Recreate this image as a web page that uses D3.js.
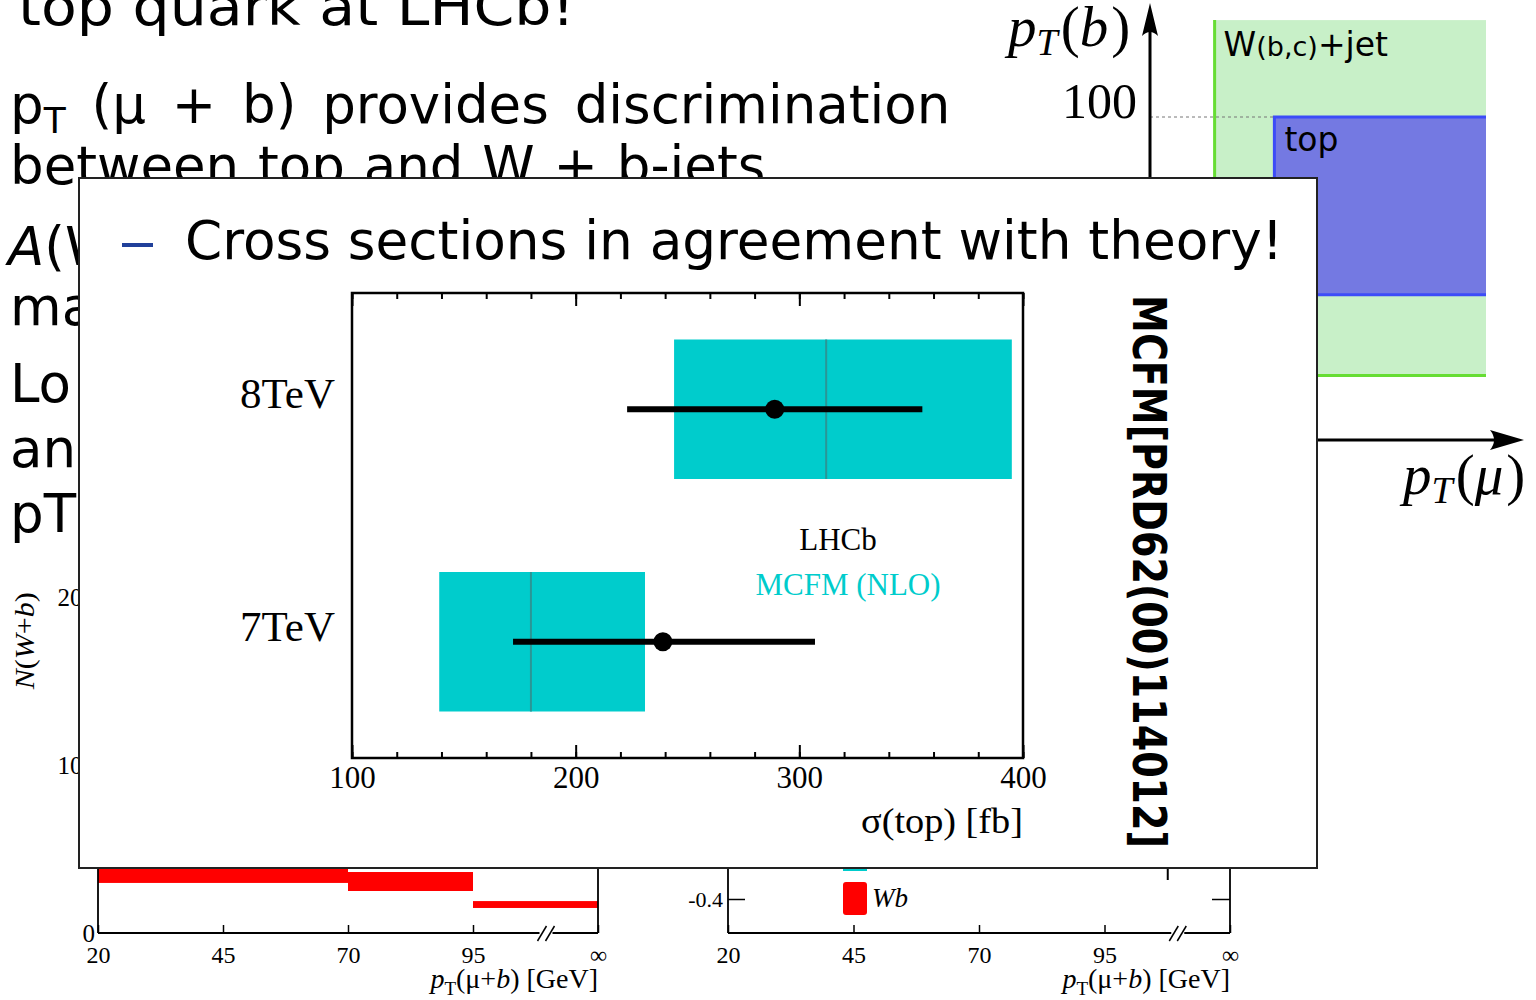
<!DOCTYPE html>
<html>
<head>
<meta charset="utf-8">
<script src="https://cdn.jsdelivr.net/npm/d3@7"></script>
<style>
  body { margin: 0; background: #fff; }
  svg { display: block; }
</style>
</head>
<body>
<svg id="screen" width="1536" height="1000"></svg>
<script>
/* global d3 */

// ---- data ----
// main plot: sigma(top) [fb]
const energies = ["7TeV", "8TeV"];
const lhcbXsec = [239, 289];
const lhcbLo = [172, 223];
const lhcbHi = [307, 355];
const mcfmXsec = [180, 312];
const mcfmLo = [139, 244];
const mcfmHi = [231, 395];
const xsecTicks = [100, 200, 300, 400];

// background slide text
const slideLines = ["top quark at LHCb!", " (μ + b) provides discrimination", "between top and W + b-jets",
                    "(W", "ma", "Lo", "an", "pT"];
const bullet = "Cross sections in agreement with theory!";
const reference = "MCFM[PRD62(00)114012]";

// background sketch pT(b) vs pT(mu)
const regionNames = ["W(b,c)+jet", "top"];
const regionMuLo = [20, 38.5];
const regionMuHi = [104, 104];
const regionBLo = [20, 45];
const regionBHi = [130, 100];

// background histograms, pT(mu+b) bins (120 stands for infinity)
const ptTicks = [20, 45, 70, 95, 120];
const wbBinLo = [20, 70, 95];
const wbBinHi = [70, 95, 120];
const wbBandLo = [29.8, 25, 14.9];
const wbBandHi = [42, 36.3, 19];
const countTicks = [0, 100, 200];
const asymTicks = [-0.4];

const serif = "'Liberation Serif', 'Times New Roman', serif";
const sans = "'DejaVu Sans', Verdana, sans-serif";
const cyan = "#00cccc";

const svg = d3.select("#screen");
svg.append("rect").attr("width", 1536).attr("height", 1000).attr("fill", "#fff");

// ----------------- slide text behind the overlay -----------------
const bg = svg.append("g")
  .attr("font-family", sans)
  .attr("font-size", 53)
  .style("white-space", "pre");

bg.append("text").attr("x", 18).attr("y", 25)
  .attr("textLength", 557).attr("lengthAdjust", "spacingAndGlyphs")
  .text(slideLines[0]);

const l2 = bg.append("text").attr("x", 10).attr("y", 123).attr("word-spacing", 9);
l2.append("tspan").text("p");
l2.append("tspan").attr("font-size", 36).attr("dy", 10).text("T");
l2.append("tspan").attr("dy", -10).text(slideLines[1]);

bg.append("text").attr("x", 10).attr("y", 184).attr("word-spacing", 2).text(slideLines[2]);

const l4 = bg.append("text").attr("x", 8).attr("y", 265);
l4.append("tspan").attr("font-style", "italic").text("A");
l4.append("tspan").text(slideLines[3]);

const restY = [325, 402, 467, 532];
slideLines.slice(4).forEach((t, i) => {
  bg.append("text").attr("x", 10).attr("y", restY[i]).text(t);
});

// ----------------- sketch: pT(b) vs pT(mu) -----------------
const mu = d3.scaleLinear().domain([0, 104]).range([1150, 1486]);
const pb = d3.scaleLinear().domain([0, 100]).range([440, 117]);
const sketch = svg.append("g");

const regionFill = ["#c8f0c8", "#7479e2"];
const regionLine = ["#66dd33", "#3c4cf8"];
regionNames.forEach((name, i) => {
  const x0 = mu(regionMuLo[i]), x1 = mu(regionMuHi[i]);
  const y0 = pb(regionBHi[i]), y1 = pb(regionBLo[i]);
  sketch.append("rect")
    .attr("x", x0).attr("y", y0)
    .attr("width", x1 - x0).attr("height", y1 - y0)
    .attr("fill", regionFill[i]);
  // open border: left + bottom (+ top for the top region)
  const d = i === 0
    ? `M${x0},${y0}V${y1}H${x1}`
    : `M${x1},${y0}H${x0}V${y1}H${x1}`;
  sketch.append("path").attr("d", d)
    .attr("fill", "none").attr("stroke", regionLine[i]).attr("stroke-width", 3);
});

sketch.append("text").attr("x", mu(regionMuLo[0]) + 9).attr("y", 56)
  .attr("font-family", sans).attr("font-size", 33)
  .call(t => {
    t.append("tspan").text("W");
    t.append("tspan").attr("font-size", 27).text("(b,c)");
    t.append("tspan").text("+jet");
  });
sketch.append("text").attr("x", mu(regionMuLo[1]) + 10).attr("y", 151)
  .attr("font-family", sans).attr("font-size", 33).text(regionNames[1]);

sketch.append("line")
  .attr("x1", mu(0)).attr("x2", mu(regionMuLo[1]))
  .attr("y1", pb(100)).attr("y2", pb(100))
  .attr("stroke", "#777").attr("stroke-width", 1).attr("stroke-dasharray", "3,3");

// axes with arrows
sketch.append("line").attr("x1", mu(0)).attr("x2", mu(0)).attr("y1", pb(0)).attr("y2", 20)
  .attr("stroke", "#000").attr("stroke-width", 3);
sketch.append("path").attr("d", `M${mu(0)},3 L${mu(0) - 8},36 Q${mu(0)},28 ${mu(0) + 8},36 Z`);
sketch.append("line").attr("x1", mu(0)).attr("x2", 1505).attr("y1", pb(0)).attr("y2", pb(0))
  .attr("stroke", "#000").attr("stroke-width", 3);
sketch.append("path").attr("d", `M1524,${pb(0)} L1490,${pb(0) - 10} Q1498,${pb(0)} 1490,${pb(0) + 10} Z`);

sketch.append("text").attr("x", mu(0) - 13).attr("y", pb(100) + 1)
  .attr("text-anchor", "end").attr("font-family", serif).attr("font-size", 50)
  .text("100");

const ptLabel = (sel, x, y, arg) => {
  const t = sel.append("text").attr("x", x).attr("y", y)
    .attr("font-family", serif).attr("font-size", 57);
  t.append("tspan").attr("font-style", "italic").text("p");
  t.append("tspan").attr("font-style", "italic").attr("font-size", 38).attr("dy", 9).text("T");
  t.append("tspan").attr("dy", -9).attr("dx", 3).text("(");
  t.append("tspan").attr("font-style", "italic").text(arg);
  t.append("tspan").attr("dx", 3).text(")");
};
ptLabel(sketch, 1008, 46, "b");
ptLabel(sketch, 1403, 494, "μ");

// ----------------- background histograms -----------------
const ptFmt = (d) => d === 120 ? "∞" : d;
const breakVal = 108.5;

const drawPtAxis = (g, x, y0) => {
  const ax = g.append("g").attr("transform", `translate(0,${y0})`)
    .call(d3.axisBottom(x).tickValues(ptTicks).tickSizeInner(-8).tickSizeOuter(0)
      .tickPadding(13).tickFormat(ptFmt));
  ax.select(".domain").remove();
  ax.attr("font-family", serif).attr("font-size", 24);
  ax.selectAll(".tick line").attr("stroke-width", 1.5);
  // axis line with a break
  const xb = x(breakVal);
  g.append("path")
    .attr("d", `M${x(20)},${y0}H${xb - 1}M${xb + 12},${y0}H${x(120)}`)
    .attr("stroke", "#000").attr("stroke-width", 1.8);
  [0, 8].forEach(o => {
    g.append("line").attr("x1", xb - 3 + o).attr("y1", y0 + 8)
      .attr("x2", xb + 6 + o).attr("y2", y0 - 7)
      .attr("stroke", "#000").attr("stroke-width", 1.5);
  });
  const lab = g.append("text").attr("x", x(120)).attr("y", y0 + 55)
    .attr("text-anchor", "end").attr("font-family", serif).attr("font-size", 28);
  lab.append("tspan").attr("font-style", "italic").text("p");
  lab.append("tspan").attr("font-size", 19).attr("dy", 7).text("T");
  lab.append("tspan").attr("dy", -7).text("(μ+");
  lab.append("tspan").attr("font-style", "italic").text("b");
  lab.append("tspan").text(") [GeV]");
};

// left: N(W+b)
const xL = d3.scaleLinear().domain([20, 120]).range([98, 598]);
const yL = d3.scaleLinear().domain([0, 200]).range([933, 597]);
const hl = svg.append("g");
hl.selectAll("rect.band")
  .data(wbBinLo)
  .join("rect")
    .attr("class", "band")
    .attr("x", (d) => xL(d))
    .attr("width", (d, i) => xL(wbBinHi[i]) - xL(d))
    .attr("y", (d, i) => yL(wbBandHi[i]))
    .attr("height", (d, i) => yL(wbBandLo[i]) - yL(wbBandHi[i]))
    .attr("fill", "#ff0000");
const yLax = hl.append("g").attr("transform", `translate(${xL(20)},0)`)
  .call(d3.axisLeft(yL).tickValues(countTicks).tickSize(0).tickPadding(3));
yLax.select(".domain").remove();
yLax.attr("font-family", serif).attr("font-size", 25);
hl.append("line").attr("x1", xL(20)).attr("x2", xL(20)).attr("y1", yL(0)).attr("y2", yL(200))
  .attr("stroke", "#000").attr("stroke-width", 1.8);
hl.append("line").attr("x1", xL(120)).attr("x2", xL(120)).attr("y1", yL(0)).attr("y2", yL(200))
  .attr("stroke", "#000").attr("stroke-width", 1.8);
drawPtAxis(hl, xL, yL(0));
hl.append("text")
  .attr("transform", `translate(34,${yL(174)}) rotate(-90)`)
  .attr("text-anchor", "middle").attr("font-family", serif).attr("font-size", 27)
  .attr("textLength", 97).attr("lengthAdjust", "spacingAndGlyphs")
  .call(t => {
    t.append("tspan").attr("font-style", "italic").text("N");
    t.append("tspan").text("(");
    t.append("tspan").attr("font-style", "italic").text("W");
    t.append("tspan").text("+");
    t.append("tspan").attr("font-style", "italic").text("b");
    t.append("tspan").text(")");
  });

// right: asymmetry
const xR = d3.scaleLinear().domain([20, 120]).range([728, 1230]);
const yR = d3.scaleLinear().domain([-0.6, -0.4]).range([933, 899]);
const hr = svg.append("g");
const yRax = hr.append("g").attr("transform", `translate(${xR(20)},0)`)
  .call(d3.axisLeft(yR).tickValues(asymTicks).tickSizeInner(-17).tickSizeOuter(0)
    .tickPadding(5).tickFormat((d) => d.toFixed(1)));
yRax.select(".domain").remove();
yRax.attr("font-family", serif).attr("font-size", 22);
yRax.selectAll(".tick line").attr("stroke-width", 1.5);
const yRax2 = hr.append("g").attr("transform", `translate(${xR(120)},0)`)
  .call(d3.axisRight(yR).tickValues(asymTicks).tickSizeInner(-18).tickSizeOuter(0).tickFormat(""));
yRax2.select(".domain").remove();
yRax2.selectAll(".tick line").attr("stroke-width", 1.5);
const topR = hr.append("g").attr("transform", "translate(0,868)")
  .call(d3.axisTop(xR).tickValues([107.5]).tickSizeInner(-12).tickSizeOuter(0).tickFormat(""));
topR.select(".domain").remove();
topR.selectAll(".tick line").attr("stroke-width", 2);
[20, 120].forEach(v => {
  hr.append("line").attr("x1", xR(v)).attr("x2", xR(v)).attr("y1", 850).attr("y2", yR(-0.6))
    .attr("stroke", "#000").attr("stroke-width", 1.8);
});
drawPtAxis(hr, xR, yR(-0.6));
// legend entries
hr.append("rect").attr("x", 843).attr("y", 850).attr("width", 24).attr("height", 21).attr("fill", cyan);
hr.append("rect").attr("x", 843).attr("y", 882).attr("width", 24).attr("height", 33)
  .attr("rx", 3).attr("fill", "#ff0000");
hr.append("text").attr("x", 872).attr("y", 907)
  .attr("font-family", serif).attr("font-size", 27).attr("font-style", "italic").text("Wb");

// ----------------- overlay box with the cross-section plot -----------------
const ov = svg.append("g");
ov.append("rect").attr("x", 79).attr("y", 178).attr("width", 1238).attr("height", 690)
  .attr("fill", "#fff").attr("stroke", "#222").attr("stroke-width", 2);

ov.append("rect").attr("x", 122).attr("y", 243).attr("width", 31).attr("height", 4).attr("fill", "#21409a");
ov.append("text").attr("x", 185).attr("y", 259)
  .attr("font-family", sans).attr("font-size", 53)
  .attr("textLength", 1098).attr("lengthAdjust", "spacingAndGlyphs")
  .text(bullet);

const x = d3.scaleLinear().domain([100, 400]).range([352, 1023]);
const y = d3.scaleLinear().domain([0.5, 2.5]).range([758, 293]);
const plot = ov.append("g");
const halfBox = 0.3;

// theory boxes
plot.selectAll("rect.mcfm")
  .data(energies)
  .join("rect")
    .attr("class", "mcfm")
    .attr("x", (d, i) => x(mcfmLo[i]))
    .attr("width", (d, i) => x(mcfmHi[i]) - x(mcfmLo[i]))
    .attr("y", (d, i) => y(i + 1 + halfBox))
    .attr("height", y(1 - halfBox) - y(1 + halfBox))
    .attr("fill", cyan);
plot.selectAll("line.central")
  .data(energies)
  .join("line")
    .attr("class", "central")
    .attr("x1", (d, i) => x(mcfmXsec[i]))
    .attr("x2", (d, i) => x(mcfmXsec[i]))
    .attr("y1", (d, i) => y(i + 1 + halfBox))
    .attr("y2", (d, i) => y(i + 1 - halfBox))
    .attr("stroke", "#2a9696").attr("stroke-width", 2);

// LHCb measurements
plot.selectAll("line.err")
  .data(energies)
  .join("line")
    .attr("class", "err")
    .attr("x1", (d, i) => x(lhcbLo[i]))
    .attr("x2", (d, i) => x(lhcbHi[i]))
    .attr("y1", (d, i) => y(i + 1))
    .attr("y2", (d, i) => y(i + 1))
    .attr("stroke", "#000").attr("stroke-width", 6);
plot.selectAll("circle.pt")
  .data(energies)
  .join("circle")
    .attr("class", "pt")
    .attr("cx", (d, i) => x(lhcbXsec[i]))
    .attr("cy", (d, i) => y(i + 1))
    .attr("r", 9.5)
    .attr("fill", "#000");

plot.selectAll("text.energy")
  .data(energies)
  .join("text")
    .attr("class", "energy")
    .attr("x", 335)
    .attr("y", (d, i) => y(i + 1) - 1)
    .attr("text-anchor", "end")
    .attr("font-family", serif).attr("font-size", 43)
    .text(d => d);

// axes: minor every 20, major every 100
const styleAxis = (g) => {
  g.select(".domain").remove();
  g.selectAll(".tick line").attr("stroke", "#000").attr("stroke-width", 2);
  g.attr("font-family", serif).attr("font-size", 31);
};
plot.append("g").attr("transform", `translate(0,${y(0.5)})`)
  .call(d3.axisBottom(x).tickValues(d3.range(100, 401, 20)).tickSize(-6).tickFormat(""))
  .call(styleAxis);
plot.append("g").attr("transform", `translate(0,${y(0.5)})`)
  .call(d3.axisBottom(x).tickValues(xsecTicks).tickSizeInner(-13).tickSizeOuter(0).tickPadding(8).tickFormat(d3.format("d")))
  .call(styleAxis);
plot.append("g").attr("transform", `translate(0,${y(2.5)})`)
  .call(d3.axisTop(x).tickValues(d3.range(100, 401, 20)).tickSize(-6).tickFormat(""))
  .call(styleAxis);
plot.append("g").attr("transform", `translate(0,${y(2.5)})`)
  .call(d3.axisTop(x).tickValues(xsecTicks).tickSizeInner(-13).tickSizeOuter(0).tickFormat(""))
  .call(styleAxis);
plot.append("rect")
  .attr("x", x(100)).attr("y", y(2.5))
  .attr("width", x(400) - x(100)).attr("height", y(0.5) - y(2.5))
  .attr("fill", "none").attr("stroke", "#000").attr("stroke-width", 2.5);

plot.append("text").attr("x", x(400)).attr("y", 833)
  .attr("text-anchor", "end").attr("font-family", serif).attr("font-size", 35)
  .attr("textLength", 162).attr("lengthAdjust", "spacingAndGlyphs")
  .text("σ(top) [fb]");

plot.append("text").attr("x", 838).attr("y", 550)
  .attr("text-anchor", "middle").attr("font-family", serif).attr("font-size", 31)
  .text("LHCb");
plot.append("text").attr("x", 848).attr("y", 595)
  .attr("text-anchor", "middle").attr("font-family", serif).attr("font-size", 31)
  .attr("fill", cyan)
  .text("MCFM (NLO)");

ov.append("text")
  .attr("transform", "translate(1133,295) rotate(90)")
  .attr("font-family", sans).attr("font-weight", "bold").attr("font-size", 46)
  .attr("textLength", 553).attr("lengthAdjust", "spacingAndGlyphs")
  .text(reference);
</script>
</body>
</html>
